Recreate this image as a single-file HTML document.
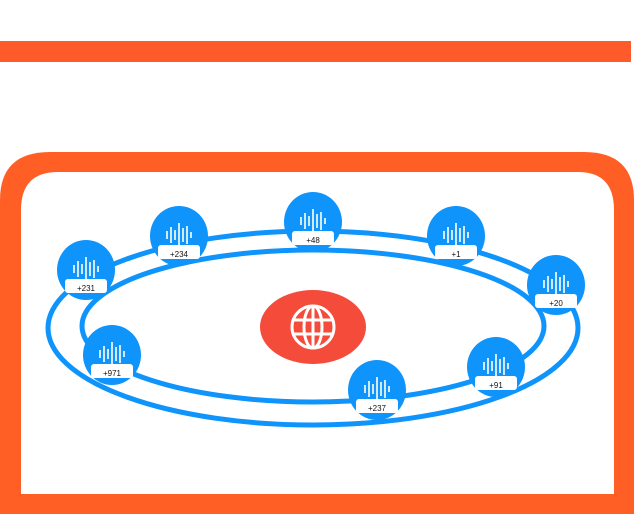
<!DOCTYPE html>
<html><head><meta charset="utf-8"><style>
body{margin:0;background:#fff;width:634px;height:514px;overflow:hidden;font-family:"Liberation Sans",sans-serif}
</style></head><body>
<svg width="634" height="514" viewBox="0 0 634 514" xmlns="http://www.w3.org/2000/svg">
<rect x="0" y="41" width="631" height="21" fill="#ff5a2a"/>
<path d="M0 514 V200 Q0 152 50 152 H584 Q634 152 634 200 V514 Z" fill="#ff5f24"/>
<path d="M21 494 V210 Q21 172 58 172 H578 Q614 172 614 210 V494 Z" fill="#fff"/>
<ellipse cx="313" cy="328" rx="265" ry="97" fill="none" stroke="#0f94fb" stroke-width="5"/>
<ellipse cx="313" cy="326" rx="231" ry="76" fill="none" stroke="#0f94fb" stroke-width="5"/>
<ellipse cx="313" cy="327" rx="53" ry="37" fill="#f54b3a"/>
<g stroke="#fff" stroke-width="3" fill="none">
<circle cx="313" cy="327" r="21"/>
<ellipse cx="313" cy="327" rx="9" ry="21"/>
<line x1="313" y1="306" x2="313" y2="348"/>
<line x1="292" y1="320" x2="334" y2="320"/>
<line x1="292" y1="334" x2="334" y2="334"/>
</g>
<defs>
<g id="n">
<ellipse cx="0" cy="0" rx="29" ry="30" fill="#0f94fb"/>
<g stroke="#fff" stroke-width="1.6">
<line x1="-12" y1="-5" x2="-12" y2="3"/><line x1="-8" y1="-9" x2="-8" y2="7"/><line x1="-4" y1="-6" x2="-4" y2="4"/><line x1="0" y1="-13" x2="0" y2="11"/><line x1="4" y1="-8" x2="4" y2="6"/><line x1="8" y1="-10" x2="8" y2="8"/><line x1="12" y1="-4" x2="12" y2="2"/>
</g>
<rect x="-21" y="9" width="42" height="14" rx="3" fill="#fff"/>
</g>
</defs>
<g font-size="8" text-anchor="middle" fill="#111">
<use href="#n" x="86" y="270"/><text x="86" y="291">+231</text>
<use href="#n" x="179" y="236"/><text x="179" y="257">+234</text>
<use href="#n" x="313" y="222"/><text x="313" y="243">+48</text>
<use href="#n" x="456" y="236"/><text x="456" y="257">+1</text>
<use href="#n" x="556" y="285"/><text x="556" y="306">+20</text>
<use href="#n" x="112" y="355"/><text x="112" y="376">+971</text>
<use href="#n" x="377" y="390"/><text x="377" y="411">+237</text>
<use href="#n" x="496" y="367"/><text x="496" y="388">+91</text>
</g>
</svg>
</body></html>
